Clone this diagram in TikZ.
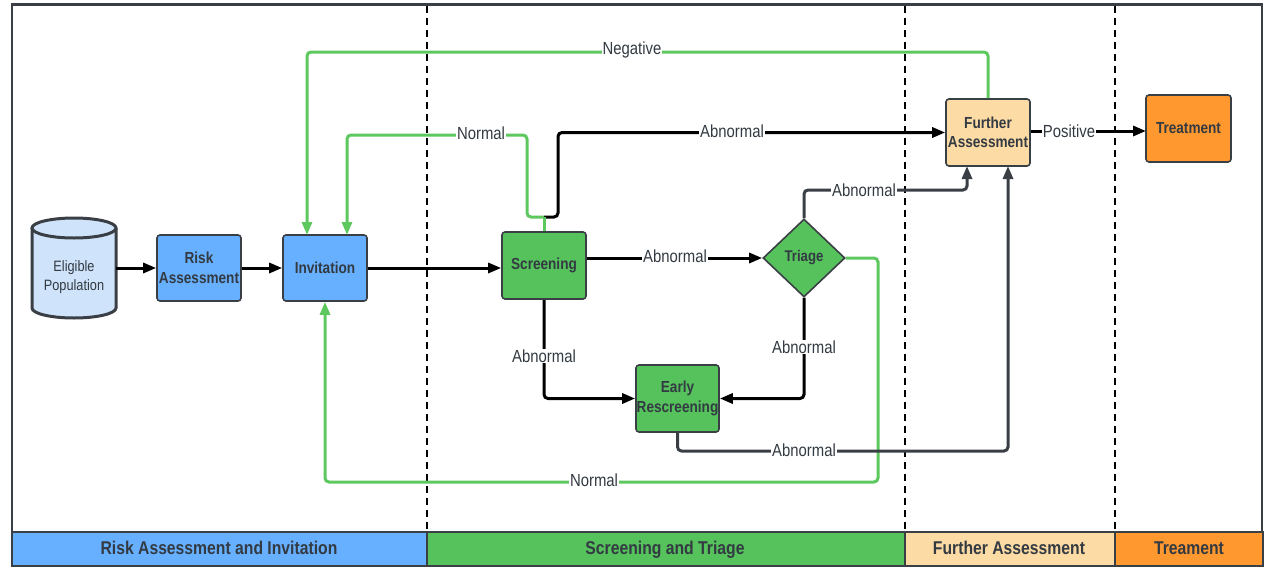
\documentclass[tikz,border=0pt]{standalone}
\usepackage{fontspec}
\setmainfont{Liberation Sans}[FakeStretch=0.85]
\usetikzlibrary{arrows.meta,shapes.geometric}
\definecolor{bd}{HTML}{3A3F46}
\definecolor{txt}{HTML}{333A42}
\definecolor{bluef}{HTML}{66B0FF}
\definecolor{cylf}{HTML}{CFE3FA}
\definecolor{greenf}{HTML}{55C25C}
\definecolor{gline}{HTML}{5CC85E}
\definecolor{lorange}{HTML}{FDDBA4}
\definecolor{orangef}{HTML}{FF982E}
\tikzset{
  box/.style={draw=bd, line width=1.6pt, rounded corners=3pt, minimum width=84pt, minimum height=66pt,
    font=\bfseries\fontsize{16}{19.5}\selectfont, text=txt, align=center, inner sep=0pt},
  tip/.style={-{Triangle[length=13pt,width=10pt]}},
  blk/.style={line width=3pt, black, rounded corners=4pt, tip},
  dgr/.style={line width=3pt, bd, rounded corners=4pt, tip},
  gln/.style={line width=3pt, gline, rounded corners=4pt, tip},
  lbl/.style={fill=white, inner sep=1pt, font=\fontsize{17.5}{19}\selectfont, text=txt},
  band/.style={draw=bd, line width=1.2pt},
  bandtxt/.style={anchor=base, font=\bfseries\fontsize{18.5}{20}\selectfont, text=txt},
  sep/.style={black, line width=1.1pt, dash pattern=on 7pt off 5pt}
}
\begin{document}
\begin{tikzpicture}[x=1pt,y=-1pt]
\useasboundingbox (0,0) rectangle (1267,568);
% frame
\draw[bd, line width=2.4pt] (12,532) -- (12,4.5) -- (1262,4.5) -- (1262,532);
% separators
\foreach \xx in {427,905,1115} \draw[sep] (\xx,6) -- (\xx,532);
% bands
\path[band, fill=bluef] (12,532) rectangle (427,566);
\path[band, fill=greenf] (427,532) rectangle (905,566);
\path[band, fill=lorange] (905,532) rectangle (1115,566);
\path[band, fill=orangef] (1115,532) rectangle (1263,566);
\node[bandtxt] (b1) at (219,554.5) {Risk Assessment and Invitation};
\node[bandtxt] (b2) at (665,554.5) {Screening and Triage};
\node[bandtxt] (b3) at (1009,554.5) {Further Assessment};
\node[bandtxt] (b4) at (1189,554.5) {Treament};

% cylinder
\draw[bd, line width=3pt, fill=cylf] (32,228) -- (32,308) arc[start angle=180, end angle=0, x radius=42, y radius=10] -- (116,228);
\draw[bd, line width=3pt, fill=cylf] (74,228) ellipse[x radius=42, y radius=10];
\node[minimum width=84pt, minimum height=100pt, inner sep=0pt, align=center, text=txt,
  font=\fontsize{15}{19}\selectfont] (elig) at (74,277) {Eligible\\Population};

% nodes
\node[box, fill=bluef] (risk) at (199,268) {Risk\\Assessment};
\node[box, fill=bluef] (inv) at (325,268) {Invitation};
\node[box, fill=greenf, minimum height=67pt] (scr) at (544,265.5) {Screening};
\node[diamond, draw=bd, line width=1.6pt, fill=greenf, minimum width=82pt, minimum height=78pt, inner sep=0pt,
  font=\bfseries\fontsize{15.5}{17}\selectfont, text=txt] (tri) at (804,258) {Triage};
\node[box, fill=greenf, minimum width=83pt, minimum height=67pt] (ers) at (677.5,398.5) {Early\\Rescreening};
\node[box, fill=lorange, minimum height=67pt] (fa) at (988,132.5) {Further\\Assessment};
\node[box, fill=orangef, minimum width=85pt, minimum height=67pt] (tre) at (1188.5,128.5) {Treatment};

% connectors
\draw[blk] (elig.east |- risk.west) -- (risk.west);
\draw[blk] (risk.east) -- (inv.west);
\draw[blk] (inv.east) -- (inv.east -| scr.west);
\draw[blk] (scr.east |- tri.west) -- (tri.west);
\node[lbl] (l1) at (675,256) {Abnormal};

\coordinate (j) at (544,217);
\draw[blk] (j) -- (558,217) -- (558,132.5) -- (fa.west);
\node[lbl] (l2) at (732,131) {Abnormal};
\draw[gln, -] (scr.north) -- (j);
\draw[gln] (j) -- (527,217) -- (527,135) -- (347,135) -- (347,235);
\node[lbl] (l3) at (481,133) {Normal};

\draw[gln] (fa.north) -- (988,52) -- (307,52) -- (307,235);
\node[lbl] (l4) at (632,50) {Negative};

\draw[dgr] (tri.north) -- (804,190) -- (967,190) -- (967,166);
\node[lbl] (l5) at (864,190) {Abnormal};

\draw[gln] (tri.east) -- (878,258) -- (878,482) -- (325,482) -- (inv.south);
\node[lbl] (l6) at (594,480) {Normal};

\draw[blk] (tri.south) -- (804,398.5) -- (ers.east);
\node[lbl] (l7) at (804,347) {Abnormal};

\draw[blk] (scr.south) -- (544,398.5) -- (ers.west);
\node[lbl] (l8) at (544,356) {Abnormal};

\draw[dgr] (ers.south) -- (677.5,451) -- (1008,451) -- (1008,166);
\node[lbl] (l9) at (804,450) {Abnormal};

\draw[blk] (fa.east |- 0,131) -- (1146,131);
\node[lbl] (l10) at (1069,131) {Positive};
\end{tikzpicture}
\end{document}
